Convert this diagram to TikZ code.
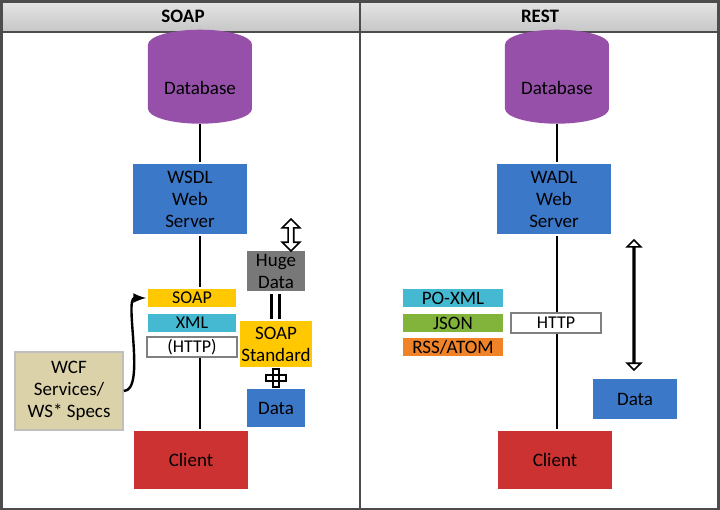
\documentclass[tikz,border=0pt]{standalone}
\usepackage{fontspec}
\setmainfont{Carlito}
\usetikzlibrary{shapes.geometric,shapes.arrows,positioning}
\definecolor{dbpurple}{RGB}{150,80,170}
\definecolor{srvblue}{RGB}{60,120,200}
\definecolor{clred}{RGB}{205,50,50}
\definecolor{soapyel}{RGB}{255,200,0}
\definecolor{xmlcyan}{RGB}{70,185,210}
\definecolor{jsongreen}{RGB}{130,180,60}
\definecolor{rssorange}{RGB}{240,130,40}
\definecolor{hugegray}{RGB}{120,120,120}
\definecolor{wcftan}{RGB}{220,210,170}
\tikzset{box/.style={draw=white,line width=0.8pt,minimum width=#1,inner sep=1pt,align=center,font=\fontsize{9.5}{11}\selectfont},
  box/.default=57.5pt,
  layer/.style={box=45pt,minimum height=10pt,font=\fontsize{9}{9}\selectfont},
  db/.style={cylinder,shape border rotate=90,aspect=0.35,draw=none,fill=dbpurple,minimum width=52pt,minimum height=47pt,font=\fontsize{9.5}{11}\selectfont}}
\begin{document}
\begin{tikzpicture}[x=0.5pt,y=-0.5pt]
    \useasboundingbox (0,0) rectangle (720,510);
    \fill[white] (0,0) rectangle (720,510);
    \shade[top color=gray!20,bottom color=gray!45] (0,0) rectangle (720,32);
    \draw[gray!60!black,line width=1.5pt] (1,1) rectangle (719,509);
    \draw[gray!60!black,line width=1pt] (0,32) -- (720,32) (360,0) -- (360,510);
    \node[font=\bfseries\fontsize{9.5}{11}\selectfont] (hsoap) at (183,16) {SOAP};
    \node[font=\bfseries\fontsize{9.5}{11}\selectfont] (hrest) at (540,16) {REST};
    % SOAP side
    \node[db] (dbl) at (200,88) {Database};
    \node[box,fill=srvblue,minimum height=36pt] (wsdl) at (190,199) {WSDL\\Web\\Server};
    \node[layer,fill=soapyel] (soap) at (192,298) {SOAP};
    \node[layer,fill=xmlcyan] (xml) at (192,323) {XML};
    \node[layer,draw=gray,fill=white] (httpl) at (192,347) {(HTTP)};
    \node[box,fill=clred,minimum height=30pt] (cll) at (191,460) {Client};
    \node[box=54pt,fill=wcftan,draw=gray!50,minimum height=39pt] (wcf) at (69,391) {WCF\\Services/\\WS* Specs};
    \draw[line width=1.2pt] (dbl.south) -- (dbl.south |- wsdl.north);
    \draw[line width=1.2pt] (wsdl.south -| dbl.south) -- (dbl.south |- soap.north);
    \draw[line width=1.2pt] (httpl.south -| dbl.south) -- (dbl.south |- cll.north);
    \draw[line width=1.2pt,-latex] (wcf.east) to[out=0,in=180,looseness=0.6] (soap.west);
    \node[box=30pt,fill=hugegray,minimum height=21pt] (huge) at (276,271) {Huge\\Data};
    \node[box=30pt,fill=soapyel,minimum height=24pt] (std) at (276,344) {SOAP\\Standard};
    \node[box=30pt,fill=srvblue,minimum height=20pt] (datal) at (276,408) {Data};
    \draw[line width=1.5pt] (272,294) -- (272,319) (280,294) -- (280,319);
    \draw[line width=1.2pt,fill=white] (273,369) rectangle (279,387) (266,375) rectangle (286,381);
    \node[double arrow,draw,line width=0.8pt,fill=white,shape border rotate=90,minimum height=16pt,minimum width=6pt,double arrow head extend=3pt,inner sep=1pt] (sym) at (291,235) {};
    % REST side
    \node[db] (dbr) at (557,88) {Database};
    \node[box,fill=srvblue,minimum height=36pt] (wadl) at (554,199) {WADL\\Web\\Server};
    \node[box,fill=clred,minimum height=30pt] (clr) at (555,460) {Client};
    \node[layer,box=51pt,fill=xmlcyan] (poxml) at (453,298) {PO-XML};
    \node[layer,box=51pt,fill=jsongreen] (json) at (453,323) {JSON};
    \node[layer,box=51pt,fill=rssorange] (rss) at (453,347) {RSS/ATOM};
    \node[layer,draw=gray,fill=white] (httpr) at (556,323) {HTTP};
    \node[box=43pt,fill=srvblue,minimum height=21pt] (datar) at (635,399) {Data};
    \draw[line width=1.2pt] (dbr.south) -- (dbr.south |- wadl.north);
    \draw[line width=1.2pt] (wadl.south -| dbr.south) -- (dbr.south |- httpr.north);
    \draw[line width=1.2pt] (httpr.south -| dbr.south) -- (dbr.south |- clr.north);
    \node[double arrow,draw,line width=0.8pt,fill=white,shape border rotate=90,minimum height=65pt,minimum width=6pt,double arrow head extend=3pt,inner sep=0pt] (updown) at (634,305) {};
\end{tikzpicture}
\end{document}
